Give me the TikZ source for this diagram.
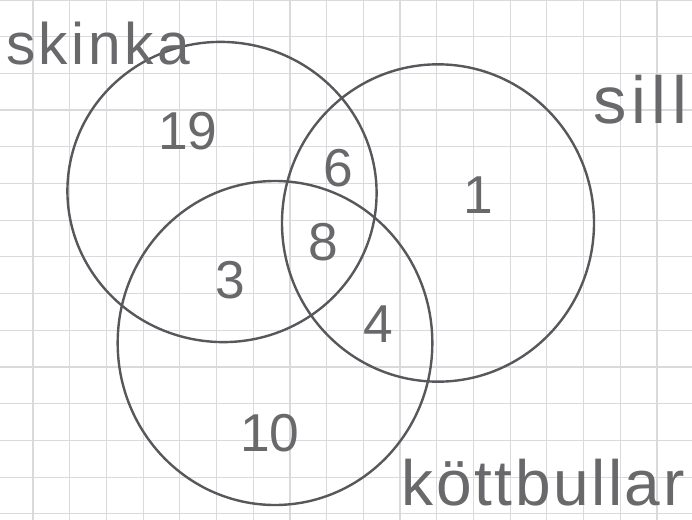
\documentclass[tikz,border=0pt]{standalone}
\usepackage{fontspec}
\setmainfont{Liberation Sans}
\usetikzlibrary{shapes.geometric}
\definecolor{inkc}{RGB}{88,88,92}
\definecolor{textc}{RGB}{105,105,108}
\definecolor{gridc}{RGB}{218,218,220}
\tikzset{
  setcircle/.style={ellipse, draw=inkc, line width=1.8pt, inner sep=0pt, outer sep=0pt},
  num/.style={text=textc, inner sep=0pt, font=\fontsize{40}{40}\selectfont},
  lbl/.style={text=textc, inner sep=0pt, font=\fontsize{44}{44}\selectfont\addfontfeature{LetterSpace=6}},
  gridline/.style={draw=gridc, line width=0.9pt}
}
\begin{document}
\begin{tikzpicture}[x=0.75pt,y=-0.75pt]
\useasboundingbox (0,0) rectangle (692,520);
\fill[white] (0,0) rectangle (692,520);
% grid paper
\foreach \i in {0,...,18} {
  \draw[gridline] ({33+36.7*\i},0) -- ({33+36.7*\i},520);
}
\foreach \j in {0,...,14} {
  \draw[gridline] (0,{36.7*\j}) -- (692,{36.7*\j});
}
% sets
\node[setcircle, minimum width=232pt, minimum height=225pt, rotate=-8] (skinkaset) at (222,192) {};
\node[setcircle, minimum width=234pt, minimum height=238pt] (sillset) at (438,223) {};
\node[setcircle, minimum width=236pt, minimum height=243pt] (kottset) at (275,343) {};
% labels
\node[lbl] (skinkalbl) at (98,44) {skinka};
\node[lbl, font=\fontsize{50}{50}\selectfont\addfontfeature{LetterSpace=8}] (silllbl) at (640,100) {sill};
\node[lbl, font=\fontsize{48}{48}\selectfont\addfontfeature{LetterSpace=4}] (kottlbl) at (543,483) {köttbullar};
% numbers
\node[num] (n19) at (188,131) {19};
\node[num] (n6) at (338,168) {6};
\node[num] (n1) at (478,195) {1};
\node[num] (n8) at (323,242) {8};
\node[num] (n3) at (230,280) {3};
\node[num] (n4) at (378,324) {4};
\node[num] (n10) at (270,433) {10};
\end{tikzpicture}
\end{document}
